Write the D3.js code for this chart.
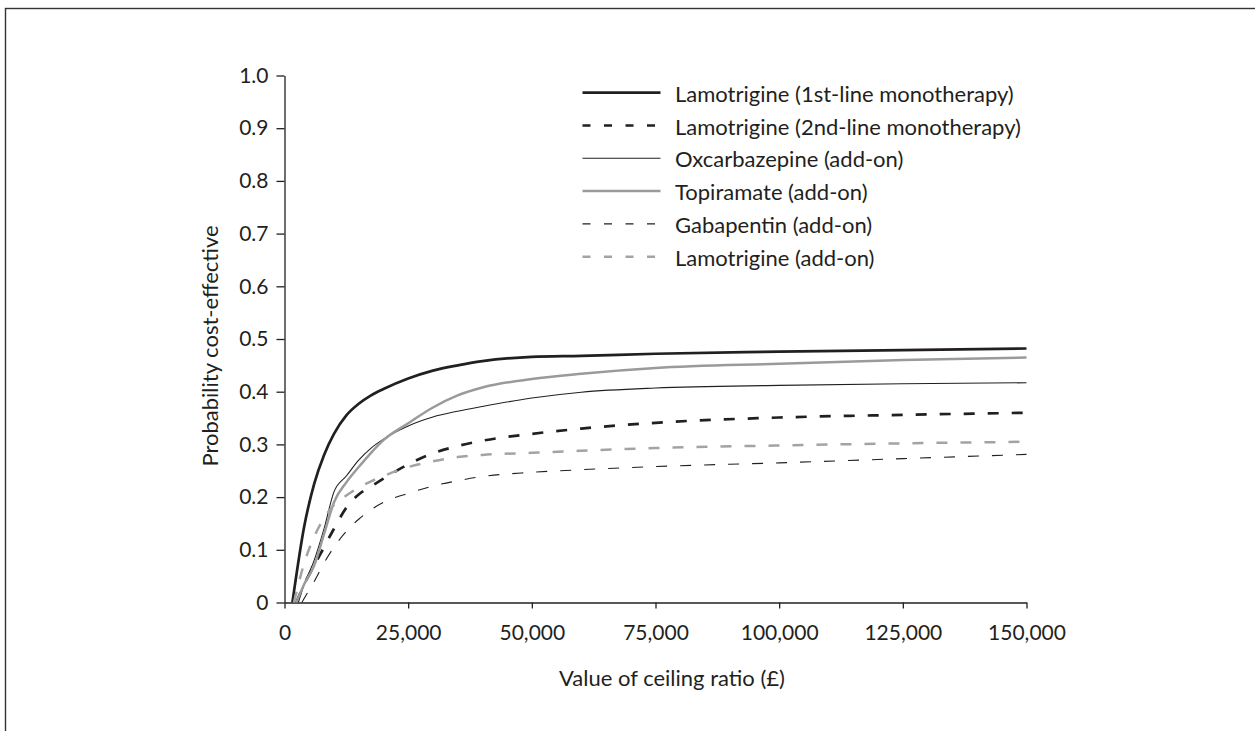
<!DOCTYPE html>
<html><head><meta charset="utf-8">
<script src="https://cdn.jsdelivr.net/npm/d3@7"></script>
<style>body{margin:0;background:#fff}svg{display:block}text{font-family:Lato,"Open Sans",sans-serif;fill:#231f20}</style>
</head><body><svg id="c" width="1255" height="731"></svg>
<script>
const ceiling = [4000, 6000, 8000, 10000, 12500, 15000, 17500, 20000, 25000, 30000, 35000, 40000, 50000, 60000, 75000, 100000, 125000, 150000];
const seriesNames = ["Lamotrigine (1st-line monotherapy)", "Lamotrigine (2nd-line monotherapy)", "Oxcarbazepine (add-on)", "Topiramate (add-on)", "Gabapentin (add-on)", "Lamotrigine (add-on)"];
const startCeiling = [1600, 2400, 2800, 2400, 3500, 1900];
const lamo1 = [0.145, 0.225, 0.28, 0.32, 0.355, 0.377, 0.393, 0.405, 0.425, 0.44, 0.45, 0.458, 0.466, 0.468, 0.472, 0.476, 0.479, 0.482];
const lamo2 = [0.035, 0.07, 0.105, 0.14, 0.18, 0.205, 0.22, 0.235, 0.262, 0.283, 0.297, 0.307, 0.32, 0.33, 0.341, 0.351, 0.356, 0.360];
const oxcarb = [0.035, 0.08, 0.14, 0.21, 0.24, 0.27, 0.293, 0.31, 0.335, 0.352, 0.363, 0.372, 0.388, 0.399, 0.407, 0.412, 0.415, 0.417];
const topir = [0.035, 0.07, 0.13, 0.19, 0.228, 0.257, 0.284, 0.308, 0.34, 0.37, 0.393, 0.408, 0.424, 0.434, 0.445, 0.453, 0.46, 0.465];
const gaba = [0.008, 0.04, 0.075, 0.105, 0.135, 0.158, 0.176, 0.19, 0.207, 0.221, 0.231, 0.239, 0.247, 0.252, 0.258, 0.265, 0.273, 0.281];
const lamoAdd = [0.075, 0.125, 0.16, 0.185, 0.203, 0.218, 0.23, 0.24, 0.257, 0.268, 0.276, 0.28, 0.284, 0.288, 0.293, 0.298, 0.302, 0.305];
const xTicks = [0, 25000, 50000, 75000, 100000, 125000, 150000];
const xTickLabels = ["0", "25,000", "50,000", "75,000", "100,000", "125,000", "150,000"];
const yTicks = [0, 0.1, 0.2, 0.3, 0.4, 0.5, 0.6, 0.7, 0.8, 0.9, 1.0];
const yTickLabels = ["0", "0.1", "0.2", "0.3", "0.4", "0.5", "0.6", "0.7", "0.8", "0.9", "1.0"];

const allValues = [lamo1, lamo2, oxcarb, topir, gaba, lamoAdd];
const styles = [
  {color: "#231f20", width: 2.7, dash: null},
  {color: "#231f20", width: 2.7, dash: "11,13"},
  {color: "#231f20", width: 1.1, dash: null},
  {color: "#9a9a9a", width: 2.5, dash: null},
  {color: "#231f20", width: 1.1, dash: "11,13"},
  {color: "#a3a3a3", width: 2.5, dash: "11,13"}
];

const svg = d3.select("#c");
svg.append("rect").attr("x", 5.5).attr("y", 8.5).attr("width", 1270).attr("height", 760)
  .attr("fill", "none").attr("stroke", "#333").attr("stroke-width", 1.4);

const x = d3.scaleLinear().domain([0, 150000]).range([284.5, 1026.5]);
const y = d3.scaleLinear().domain([0, 1]).range([602.5, 75.5]);

const gx = svg.append("g").attr("transform", "translate(0,602.5)")
  .call(d3.axisBottom(x).tickValues(xTicks).tickFormat((d, i) => xTickLabels[i]).tickSize(6).tickSizeOuter(0).tickPadding(17));
const gy = svg.append("g").attr("transform", "translate(284.5,0)")
  .call(d3.axisLeft(y).tickValues(yTicks).tickFormat((d, i) => yTickLabels[i]).tickSize(8).tickSizeOuter(0).tickPadding(8));
[gx, gy].forEach(g => {
  g.selectAll("path,line").attr("stroke", "#231f20").attr("stroke-width", 1.3);
  g.selectAll("text").attr("font-size", 21).attr("fill", "#231f20").attr("font-family", "Lato, 'Open Sans', sans-serif");
});

const line = d3.line().x(d => x(d[0])).y(d => y(d[1])).curve(d3.curveMonotoneX);
allValues.forEach((vals, i) => {
  const pts = [[startCeiling[i], 0]].concat(ceiling.map((c, j) => [c, vals[j]]));
  const st = styles[i];
  svg.append("path").datum(pts).attr("d", line).attr("fill", "none")
    .attr("stroke", st.color).attr("stroke-width", st.width)
    .attr("stroke-dasharray", st.dash);
});

// legend
const lg = svg.append("g");
seriesNames.forEach((name, i) => {
  const yy = 92.7 + i * 32.8;
  const st = styles[i];
  lg.append("line").attr("x1", 582.5).attr("x2", 660.5).attr("y1", yy).attr("y2", yy)
    .attr("stroke", st.color).attr("stroke-width", st.width)
    .attr("stroke-dasharray", st.dash ? "8,13.5" : null);
  lg.append("text").attr("x", 675).attr("y", yy).attr("dy", "0.41em").attr("font-size", 22).text(name);
});

svg.append("text").attr("x", 672).attr("y", 686).attr("text-anchor", "middle").attr("font-size", 22)
  .text("Value of ceiling ratio (£)");
svg.append("text").attr("transform", "translate(218,346) rotate(-90)").attr("text-anchor", "middle").attr("font-size", 22)
  .text("Probability cost-effective");
</script></body></html>
